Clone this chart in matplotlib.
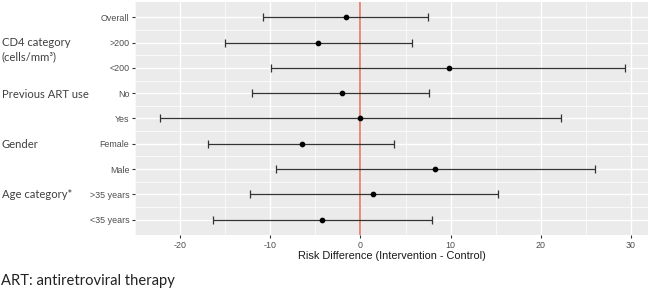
import matplotlib
matplotlib.use("Agg")
import matplotlib.pyplot as plt
import numpy as np

categories = ["Overall", ">200", "<200", "No", "Yes", "Female", "Male", ">35 years", "<35 years"]
estimate = [-1.6, -4.7, 9.8, -2.1, 0.0, -6.5, 8.3, 1.4, -4.3]
lower = [-10.8, -15.0, -9.9, -12.0, -22.2, -16.9, -9.4, -12.3, -16.4]
upper = [7.5, 5.7, 29.3, 7.6, 22.2, 3.7, 26.0, 15.2, 7.9]
xticks = [-20, -10, 0, 10, 20, 30]
group_labels = ["CD4 category", "(cells/mm\u00b3)", "Previous ART use", "Gender", "Age category*"]
xlabel = "Risk Difference (Intervention - Control)"
footnote = "ART: antiretroviral therapy"

W, H = 650, 290
fig = plt.figure(figsize=(W / 100, H / 100), dpi=100)
ax = fig.add_axes([135 / W, (H - 235) / H, (648 - 135) / W, (235 - 2) / H])
ax.set_facecolor("#EBEBEB")

n = len(categories)
ypos = np.arange(n)[::-1] + 1  # Overall at top

est = np.array(estimate)
lo = np.array(lower)
hi = np.array(upper)

ax.errorbar(est, ypos, xerr=[est - lo, hi - est], fmt="none", ecolor="#333333",
            elinewidth=0.9, capsize=3.0, capthick=0.9, zorder=3)
ax.plot(est, ypos, "o", color="black", markersize=3.1, zorder=4)
ax.axvline(0, color="#E66A55", linewidth=1.1, zorder=2)

xmin, xmax = min(lower), max(upper)
pad = 0.05 * (xmax - xmin)
ax.set_xlim(xmin - pad, xmax + pad)
ax.set_ylim(0.4, n + 0.6)

ax.set_xticks(xticks)
ax.set_xticklabels([str(t) for t in xticks])
ax.set_xticks([t + 5 for t in xticks[:-1]] + [xticks[0] - 5], minor=True)
ax.set_yticks(ypos)
ax.set_yticklabels(categories)
ax.set_yticks(np.arange(1, n) + 0.5, minor=True)

ax.grid(which="major", color="white", linewidth=1.0)
ax.grid(which="minor", color="white", linewidth=0.5)
ax.set_axisbelow(True)
for s in ax.spines.values():
    s.set_visible(False)
ax.tick_params(which="major", length=2.5, width=0.8, color="#333333",
               labelsize=6.4, labelcolor="#4D4D4D", pad=1.5)
ax.tick_params(which="minor", length=0)
for lab in ax.get_xticklabels() + ax.get_yticklabels():
    lab.set_fontfamily("Liberation Sans")
ax.set_xlabel(xlabel, fontsize=7.9, family="Liberation Sans", color="#1A1A1A", labelpad=1.0)

def fy(py):
    return 1 - py / H

gfont = dict(family="Lato", fontsize=8.1, color="#404040", va="center", ha="left")
fig.text(2 / W, fy(43), group_labels[0], **gfont)
fig.text(2 / W, fy(57), group_labels[1], **gfont)
fig.text(2 / W, fy(94), group_labels[2], **gfont)
fig.text(2 / W, fy(144), group_labels[3], **gfont)
fig.text(2 / W, fy(194), group_labels[4], **gfont)
fig.text(1 / W, fy(281), footnote, family="Lato", fontsize=10.6, color="#222222",
         va="center", ha="left")

fig.savefig("out.png", dpi=100, facecolor="white")
